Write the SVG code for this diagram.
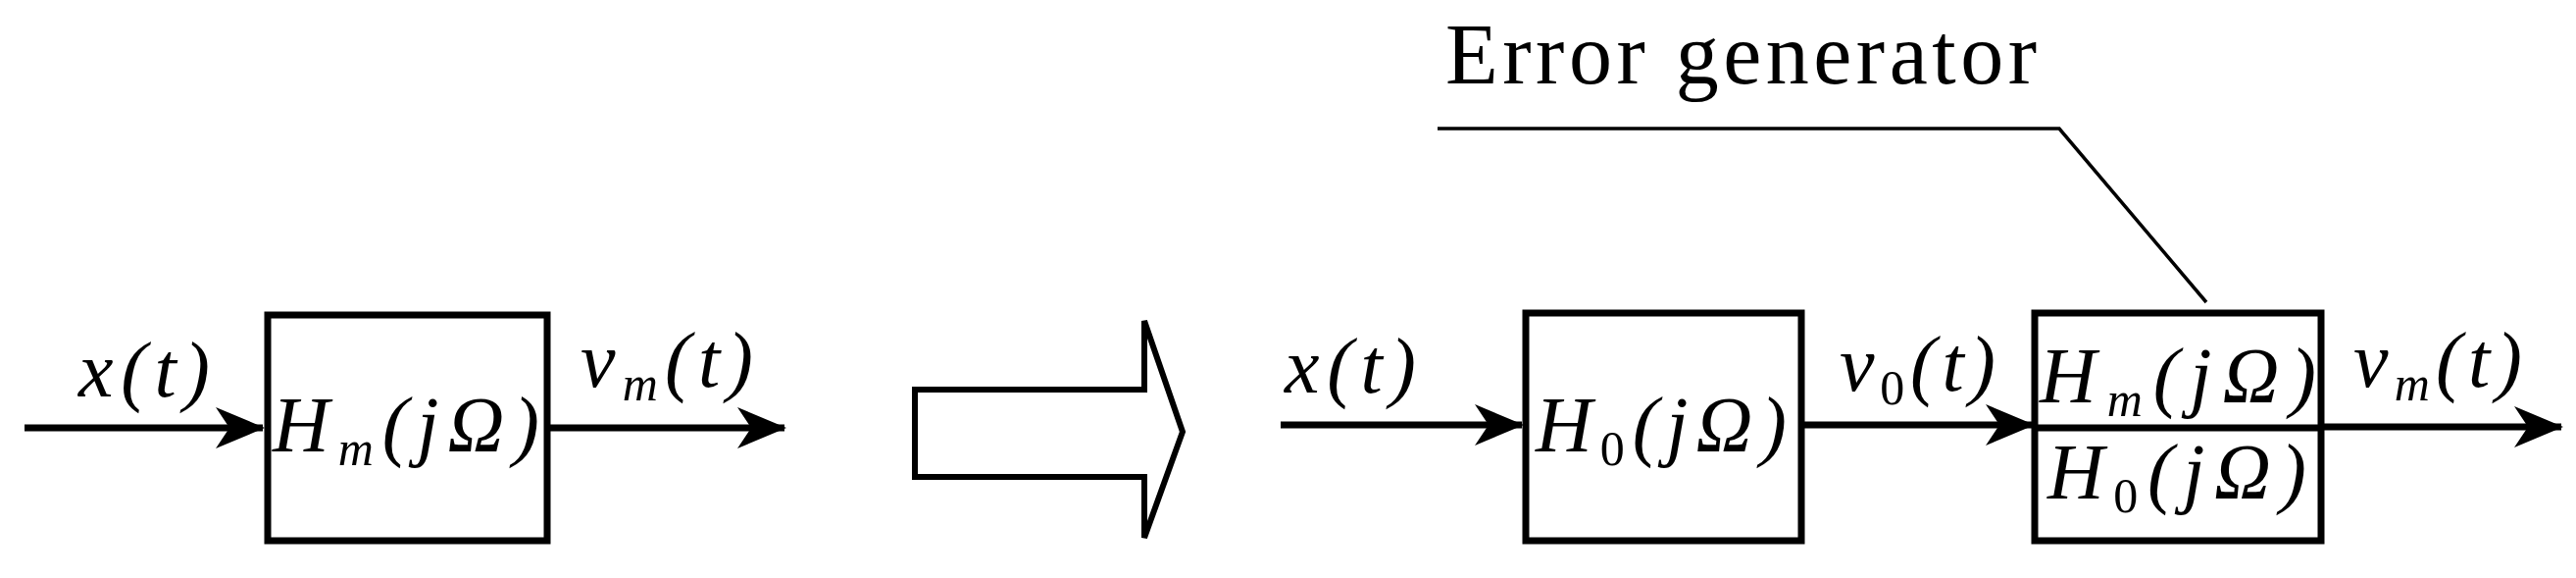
<svg xmlns="http://www.w3.org/2000/svg" width="2627" height="589" viewBox="0 0 2627 589">
<style>
.box{fill:#fff;stroke:#000;stroke-width:7}
.ln{stroke:#000;stroke-width:7;fill:none}
.m{font-family:"Liberation Serif",serif;font-style:italic;font-size:80px;fill:#000}
.r{font-style:normal}
.s{font-size:50px}
.t{font-family:"Liberation Serif",serif;font-size:88px;fill:#000}
</style>
<defs>
<marker id="a" viewBox="0 0 50 50" refX="48" refY="25" markerWidth="50" markerHeight="50" markerUnits="userSpaceOnUse" orient="auto">
<path d="M0,4 L50,25 L0,46 L14,25 Z" fill="#000"/>
</marker>
</defs>
<g id="connectors">
<line class="ln" x1="25" y1="436" x2="268" y2="436" marker-end="url(#a)"/>
<line class="ln" x1="558" y1="436" x2="800" y2="436" marker-end="url(#a)"/>
<line class="ln" x1="1306" y1="433" x2="1552" y2="433" marker-end="url(#a)"/>
<line class="ln" x1="1837" y1="433" x2="2073" y2="433" marker-end="url(#a)"/>
<line class="ln" x1="2367" y1="435" x2="2612" y2="435" marker-end="url(#a)"/>
<polyline points="1466,131 2100,131 2250,308" fill="none" stroke="#000" stroke-width="3.5"/>
</g>
<g id="left-block">
<rect class="box" x="273" y="321" width="285" height="230"/>
<text class="m" x="278" y="460" textLength="272" lengthAdjust="spacing">H<tspan class="s" dy="14">m</tspan><tspan dy="-14">(</tspan>jΩ)</text>
</g>
<text class="m" x="80" y="404" textLength="134" lengthAdjust="spacing">x(t)</text>
<text class="m" x="592" y="394" textLength="176" lengthAdjust="spacing">v<tspan class="s" dy="14">m</tspan><tspan dy="-14">(t)</tspan></text>
<g id="big-arrow">
<polygon points="933,397 1167,397 1167,327 1206,440 1167,548 1167,486 933,486" fill="#fff" stroke="#000" stroke-width="6" stroke-linejoin="miter"/>
</g>
<g id="h0-block">
<rect class="box" x="1556" y="319" width="281" height="232"/>
<text class="m" x="1566" y="460" textLength="256" lengthAdjust="spacing">H<tspan class="s r" dy="14">0</tspan><tspan dy="-14">(</tspan>jΩ)</text>
</g>
<text class="m" x="1310" y="400" textLength="134" lengthAdjust="spacing">x(t)</text>
<text class="m" x="1876" y="398" textLength="159" lengthAdjust="spacing">v<tspan class="s r" dy="14">0</tspan><tspan dy="-14">(t)</tspan></text>
<g id="error-block">
<rect class="box" x="2075" y="319" width="292" height="232"/>
<line class="ln" x1="2075" y1="436" x2="2367" y2="436"/>
<text class="m" x="2080" y="410" textLength="282" lengthAdjust="spacing">H<tspan class="s" dy="14">m</tspan><tspan dy="-14">(</tspan>jΩ)</text>
<text class="m" x="2088" y="508" textLength="264" lengthAdjust="spacing">H<tspan class="s r" dy="14">0</tspan><tspan dy="-14">(</tspan>jΩ)</text>
</g>
<text class="m" x="2400" y="394" textLength="172" lengthAdjust="spacing">v<tspan class="s" dy="14">m</tspan><tspan dy="-14">(t)</tspan></text>
<text class="t" x="1474" y="85" textLength="603" lengthAdjust="spacing">Error generator</text>
</svg>
